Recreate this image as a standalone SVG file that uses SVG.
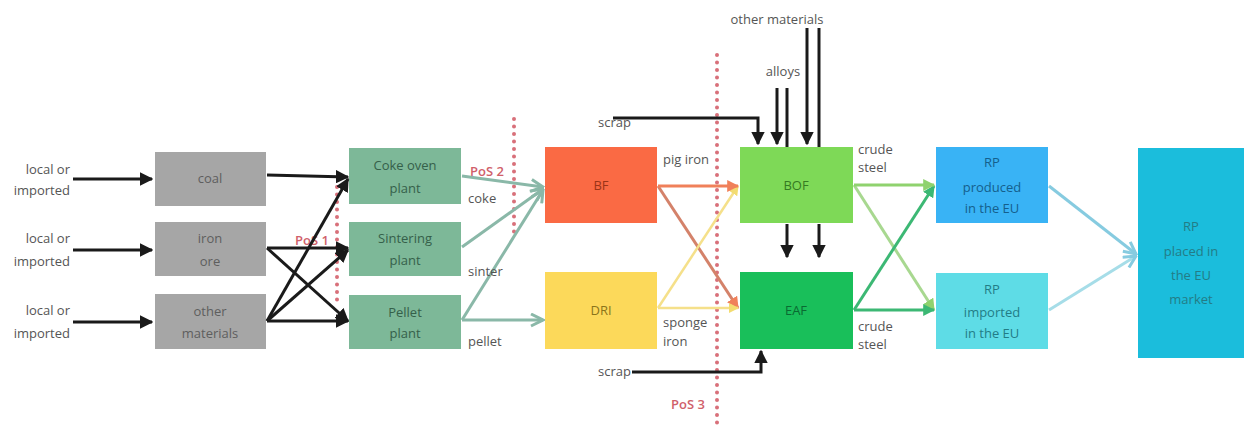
<svg xmlns="http://www.w3.org/2000/svg" width="1249" height="442" viewBox="0 0 1249 442">
  <style>
    text { font-family: "Open Sans", "Noto Sans", "Liberation Sans", sans-serif; font-size: 13px; }
    .lbl { fill: #555555; }
    .mid { text-anchor: middle; }
    .end { text-anchor: end; }
    .pos { fill: #d0606a; font-weight: 600; }
    .blk { stroke: #1a1a1a; stroke-width: 3; fill: none; }
    .dots { stroke: #d8707a; stroke-width: 4; stroke-dasharray: 0 7.5; stroke-linecap: round; fill: none; }
    .t-gray { fill: #5e5e5e; }
    .t-green { fill: #35604a; }
    .t-red { fill: #9a3418; }
    .t-yel { fill: #8a741a; }
    .t-lg { fill: #357a22; }
    .t-dg { fill: #0a6a32; }
    .t-blue { fill: #155f8c; }
    .t-cyan { fill: #237c86; }
  </style>
  <defs>
    <marker id="ah-black" viewBox="0 0 10 10" refX="9" refY="5" markerWidth="4.5" markerHeight="4.5" orient="auto">
      <path d="M0,0 L10,5 L0,10 z" fill="#1a1a1a"/>
    </marker>
    <marker id="ah-teal" viewBox="0 0 10 10" refX="9" refY="5" markerWidth="5" markerHeight="5" orient="auto">
      <path d="M1,1 L9,5 L1,9" fill="none" stroke="#8ab8a8" stroke-width="2"/>
    </marker>
    <marker id="ah-orange" viewBox="0 0 10 10" refX="9" refY="5" markerWidth="4" markerHeight="4" orient="auto">
      <path d="M0,0 L10,5 L0,10 z" fill="#f0805a"/>
    </marker>
    <marker id="ah-yellow" viewBox="0 0 10 10" refX="9" refY="5" markerWidth="4" markerHeight="4" orient="auto">
      <path d="M0,0 L10,5 L0,10 z" fill="#f3dc70"/>
    </marker>
    <marker id="ah-lgreen" viewBox="0 0 10 10" refX="9" refY="5" markerWidth="4" markerHeight="4" orient="auto">
      <path d="M0,0 L10,5 L0,10 z" fill="#8fd26e"/>
    </marker>
    <marker id="ah-green" viewBox="0 0 10 10" refX="9" refY="5" markerWidth="4" markerHeight="4" orient="auto">
      <path d="M0,0 L10,5 L0,10 z" fill="#3cb874"/>
    </marker>
    <marker id="ah-blue" viewBox="0 0 10 10" refX="9" refY="5" markerWidth="5" markerHeight="5" orient="auto">
      <path d="M1,1 L9,5 L1,9" fill="none" stroke="#86cbe0" stroke-width="2"/>
    </marker>
  </defs>

  <rect width="1249" height="442" fill="#ffffff"/>

  <!-- input labels -->
  <g id="inputs" class="lbl">
    <text class="end" x="70" y="174">local or</text>
    <text class="end" x="70" y="195">imported</text>
    <text class="end" x="70" y="243">local or</text>
    <text class="end" x="70" y="266">imported</text>
    <text class="end" x="70" y="315">local or</text>
    <text class="end" x="70" y="338">imported</text>
  </g>

  <!-- raw materials -->
  <g id="coal">
    <rect x="155" y="152" width="111" height="54" fill="#a6a6a6"/>
    <text class="mid t-gray" x="210" y="183">coal</text>
  </g>
  <g id="iron-ore">
    <rect x="155" y="222" width="111" height="54" fill="#a6a6a6"/>
    <text class="mid t-gray" x="210" y="243">iron</text>
    <text class="mid t-gray" x="210" y="266">ore</text>
  </g>
  <g id="other-materials">
    <rect x="155" y="294" width="111" height="55" fill="#a6a6a6"/>
    <text class="mid t-gray" x="210" y="316">other</text>
    <text class="mid t-gray" x="210" y="338">materials</text>
  </g>

  <!-- preparation plants -->
  <g id="coke-oven">
    <rect x="349" y="148" width="112" height="56" fill="#7db898"/>
    <text class="mid t-green" x="405" y="170">Coke oven</text>
    <text class="mid t-green" x="405" y="193">plant</text>
  </g>
  <g id="sintering">
    <rect x="349" y="222" width="112" height="54" fill="#7db898"/>
    <text class="mid t-green" x="405" y="243">Sintering</text>
    <text class="mid t-green" x="405" y="265">plant</text>
  </g>
  <g id="pellet">
    <rect x="349" y="295" width="112" height="54" fill="#7db898"/>
    <text class="mid t-green" x="405" y="317">Pellet</text>
    <text class="mid t-green" x="405" y="338">plant</text>
  </g>

  <!-- ironmaking -->
  <g id="bf">
    <rect x="545" y="147" width="112" height="76" fill="#fa6a44"/>
    <text class="mid t-red" x="601" y="190">BF</text>
  </g>
  <g id="dri">
    <rect x="545" y="272" width="112" height="77" fill="#fcd95a"/>
    <text class="mid t-yel" x="601" y="315">DRI</text>
  </g>

  <!-- steelmaking -->
  <g id="bof">
    <rect x="740" y="147" width="113" height="76" fill="#7ed957"/>
    <text class="mid t-lg" x="796" y="190">BOF</text>
  </g>
  <g id="eaf">
    <rect x="740" y="272" width="113" height="77" fill="#19bf5a"/>
    <text class="mid t-dg" x="796" y="315">EAF</text>
  </g>

  <!-- products -->
  <g id="rp-produced">
    <rect x="936" y="147" width="112" height="76" fill="#39b3f5"/>
    <text class="mid t-blue" x="992" y="167">RP</text>
    <text class="mid t-blue" x="992" y="192">produced</text>
    <text class="mid t-blue" x="992" y="213">in the EU</text>
  </g>
  <g id="rp-imported">
    <rect x="936" y="273" width="112" height="76" fill="#5edce6"/>
    <text class="mid t-cyan" x="992" y="294">RP</text>
    <text class="mid t-cyan" x="992" y="317">imported</text>
    <text class="mid t-cyan" x="992" y="338">in the EU</text>
  </g>
  <g id="rp-market">
    <rect x="1138" y="148" width="106" height="210" fill="#1bbddc"/>
    <text class="mid t-cyan" x="1191" y="231">RP</text>
    <text class="mid t-cyan" x="1191" y="256">placed in</text>
    <text class="mid t-cyan" x="1191" y="280">the EU</text>
    <text class="mid t-cyan" x="1191" y="304">market</text>
  </g>

  <!-- points of separation -->
  <g id="pos">
    <line class="dots" x1="337" y1="187" x2="337" y2="307"/>
    <line class="dots" x1="514" y1="119" x2="514" y2="233"/>
    <line class="dots" x1="717" y1="55" x2="717" y2="430"/>
    <text class="pos" x="295" y="245">PoS 1</text>
    <text class="pos" x="470" y="176">PoS 2</text>
    <text class="pos" x="671" y="409">PoS 3</text>
  </g>

  <!-- connectors -->
  <g id="connectors">
    <!-- inputs to raw materials -->
    <line class="blk" x1="73" y1="179" x2="152" y2="179" marker-end="url(#ah-black)"/>
    <line class="blk" x1="73" y1="250" x2="152" y2="250" marker-end="url(#ah-black)"/>
    <line class="blk" x1="73" y1="322" x2="152" y2="322" marker-end="url(#ah-black)"/>

    <!-- raw materials to plants -->
    <line class="blk" x1="267" y1="175" x2="348" y2="177" marker-end="url(#ah-black)"/>
    <line class="blk" x1="267" y1="248" x2="348" y2="248" marker-end="url(#ah-black)"/>
    <line class="blk" x1="267" y1="248" x2="348" y2="321" marker-end="url(#ah-black)"/>
    <line class="blk" x1="267" y1="321" x2="348" y2="179" marker-end="url(#ah-black)"/>
    <line class="blk" x1="267" y1="321" x2="348" y2="250" marker-end="url(#ah-black)"/>
    <line class="blk" x1="267" y1="321" x2="348" y2="321" marker-end="url(#ah-black)"/>

    <!-- plants to ironmaking -->
    <g stroke="#8ab8a8" stroke-width="3" fill="none">
      <line x1="462" y1="176" x2="543" y2="187" marker-end="url(#ah-teal)"/>
      <line x1="462" y1="247" x2="543" y2="189" marker-end="url(#ah-teal)"/>
      <line x1="462" y1="320" x2="543" y2="190" marker-end="url(#ah-teal)"/>
      <line x1="462" y1="320" x2="543" y2="320" marker-end="url(#ah-teal)"/>
    </g>

    <!-- ironmaking to steelmaking -->
    <line x1="658" y1="186" x2="738" y2="308" stroke="#d4826a" stroke-width="3" marker-end="url(#ah-orange)"/>
    <line x1="658" y1="308" x2="738" y2="186" stroke="#f5e08a" stroke-width="2.5" marker-end="url(#ah-yellow)"/>
    <line x1="658" y1="186" x2="738" y2="186" stroke="#f0805a" stroke-width="3" marker-end="url(#ah-orange)"/>
    <line x1="658" y1="308" x2="738" y2="308" stroke="#f5e08a" stroke-width="2.5" marker-end="url(#ah-yellow)"/>

    <!-- scrap, alloys and other materials feeds -->
    <polyline class="blk" points="613,118 758,118 758,144" marker-end="url(#ah-black)"/>
    <line class="blk" x1="777" y1="88" x2="777" y2="144" marker-end="url(#ah-black)"/>
    <line class="blk" x1="787" y1="88" x2="787" y2="147"/>
    <line class="blk" x1="807" y1="28" x2="807" y2="144" marker-end="url(#ah-black)"/>
    <line class="blk" x1="819" y1="28" x2="819" y2="147"/>
    <polyline class="blk" points="632,372 761,372 761,351" marker-end="url(#ah-black)"/>

    <!-- BOF to EAF -->
    <line class="blk" x1="787" y1="224" x2="787" y2="257" marker-end="url(#ah-black)"/>
    <line class="blk" x1="819" y1="224" x2="819" y2="257" marker-end="url(#ah-black)"/>

    <!-- steelmaking to products -->
    <line x1="854" y1="185" x2="934" y2="310" stroke="#a8d890" stroke-width="3" marker-end="url(#ah-lgreen)"/>
    <line x1="854" y1="310" x2="934" y2="186" stroke="#3cb874" stroke-width="3" marker-end="url(#ah-green)"/>
    <line x1="854" y1="185" x2="934" y2="185" stroke="#8fd26e" stroke-width="3" marker-end="url(#ah-lgreen)"/>
    <line x1="854" y1="310" x2="934" y2="310" stroke="#3cb874" stroke-width="3" marker-end="url(#ah-green)"/>

    <!-- products to market -->
    <line x1="1049" y1="186" x2="1136" y2="254" stroke="#86cbe0" stroke-width="3" marker-end="url(#ah-blue)"/>
    <line x1="1049" y1="310" x2="1136" y2="256" stroke="#a6dde8" stroke-width="3" marker-end="url(#ah-blue)"/>
  </g>

  <!-- flow labels -->
  <g id="flow-labels" class="lbl">
    <text x="468" y="203">coke</text>
    <text x="468" y="276">sinter</text>
    <text x="468" y="346">pellet</text>
    <text x="663" y="164">pig iron</text>
    <text x="663" y="327">sponge</text>
    <text x="663" y="346">iron</text>
    <text x="858" y="154">crude</text>
    <text x="858" y="172">steel</text>
    <text x="858" y="331">crude</text>
    <text x="858" y="349">steel</text>
    <text class="end" x="631" y="127">scrap</text>
    <text class="end" x="631" y="376">scrap</text>
    <text class="mid" x="777" y="24">other materials</text>
    <text class="mid" x="783" y="76">alloys</text>
  </g>
</svg>
